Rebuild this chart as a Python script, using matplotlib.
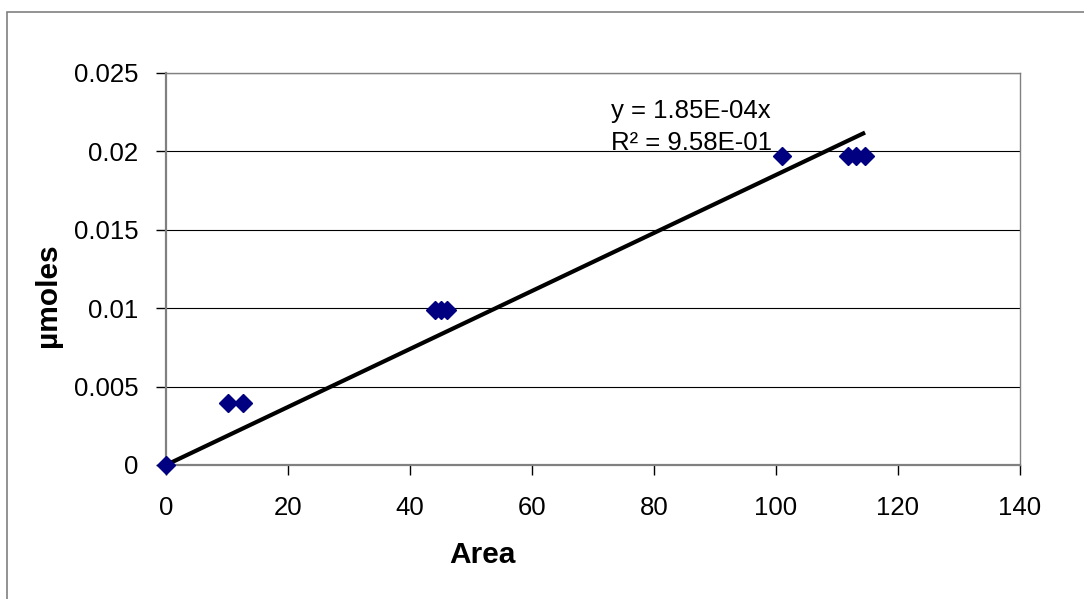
import matplotlib.pyplot as plt
import numpy as np
from matplotlib.patches import Rectangle

plt.rcParams['font.family'] = ['Liberation Sans', 'DejaVu Sans']

# data
area = [0, 10.2, 12.6, 44.1, 45.1, 46.1, 101.0, 111.8, 113.1, 114.6]
umoles = [0, 0.00395, 0.00395, 0.00988, 0.00988, 0.00988, 0.0197, 0.0197, 0.0197, 0.0197]
slope = 1.85e-4
eq_lines = ['y = 1.85E-04x', 'R² = 9.58E-01']

W, H = 1084, 599
fig = plt.figure(figsize=(W / 100, H / 100), dpi=100)

# outer chart border (runs off the right and bottom)
fig.patches.append(Rectangle((7 / W, -0.1), 1.2, 1 - 12 / H + 0.1, transform=fig.transFigure,
                             fill=False, edgecolor='#808080', linewidth=1.2))

ax = fig.add_axes([166 / W, 1 - 465 / H, (1020 - 166) / W, (465 - 73) / H])

# horizontal gridlines
for yv in np.arange(0.005, 0.0251, 0.005):
    ax.axhline(yv, color='black', linewidth=0.8, zorder=1)

# trendline through origin
xs = np.array([0, max(area)])
ax.plot(xs, slope * xs, color='black', linewidth=3, zorder=3, solid_capstyle='butt')

ax.plot(area, umoles, linestyle='none', marker='D', markersize=9,
        color='#000080', zorder=4, clip_on=False)

ax.set_xlim(0, 140)
ax.set_ylim(0, 0.025)
ax.set_xticks(range(0, 141, 20))
ax.set_yticks([0, 0.005, 0.01, 0.015, 0.02, 0.025])
ax.set_yticklabels(['0', '0.005', '0.01', '0.015', '0.02', '0.025'])
ax.tick_params(labelsize=18.5, direction='out', length=7, width=1, color='black', pad=13)
ax.tick_params(axis='x', pad=15)

for s in ['left', 'bottom']:
    ax.spines[s].set_color('#808080')
    ax.spines[s].set_linewidth(1.6)
for s in ['top', 'right']:
    ax.spines[s].set_color('#808080')
    ax.spines[s].set_linewidth(1)

fig.text(482 / W, 1 - 563 / H, 'Area', fontsize=21.5, fontweight='bold', ha='center', va='baseline')
fig.text(48 / W, 1 - 295 / H, 'µmoles', fontsize=21.5, fontweight='bold', ha='center', va='center',
         rotation=90)

ax.text(73, 0.02213, eq_lines[0], fontsize=18.5, va='baseline', ha='left', zorder=5)
ax.text(73, 0.02009, eq_lines[1], fontsize=18.5, va='baseline', ha='left', zorder=5)

fig.savefig('out.png', dpi=100)
